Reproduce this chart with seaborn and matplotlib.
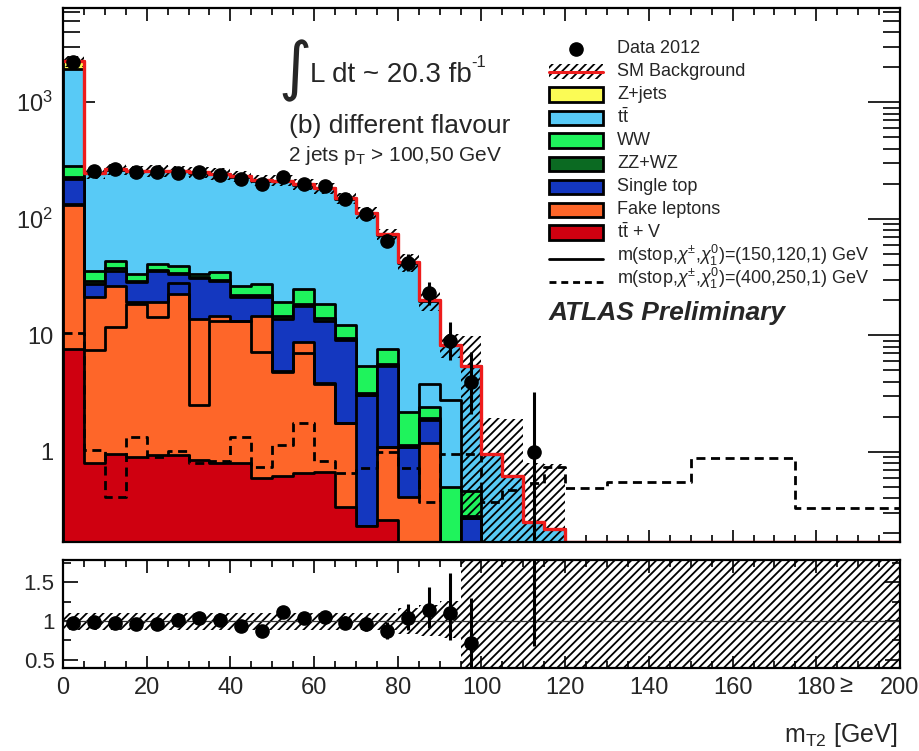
import numpy as np
import matplotlib
matplotlib.use("Agg")
import matplotlib.pyplot as plt
import seaborn as sns
from matplotlib.patches import Rectangle
from matplotlib.lines import Line2D
from matplotlib.ticker import FixedLocator, FixedFormatter, NullFormatter, MultipleLocator, LogLocator

sns.set_theme(style="ticks")
plt.rcParams['font.family'] = ['Liberation Sans', 'DejaVu Sans']
plt.rcParams['mathtext.fontset'] = 'custom'
plt.rcParams['mathtext.rm'] = 'Liberation Sans'
plt.rcParams['mathtext.it'] = 'Liberation Sans:italic'
plt.rcParams['mathtext.bf'] = 'Liberation Sans:bold'
plt.rcParams['hatch.linewidth'] = 1.3
plt.rcParams['lines.scale_dashes'] = False

# ---------------- data (5 GeV bins, 0-200 GeV) ----------------
bin_edges = np.arange(0, 205, 5)
nbins = len(bin_edges) - 1

ttv        = [7.7, 0.80, 0.97, 0.91, 0.94, 0.94, 0.85, 0.80, 0.80, 0.60, 0.62, 0.66, 0.68, 0.34, 0.23, 0.26, 0, 0, 0, 0, 0, 0, 0, 0]
fake       = [124, 20.5, 25.7, 18.3, 18.3, 21.8, 12.9, 14.0, 12.6, 14.2, 4.3, 8.1, 3.2, 1.43, 0, 0.85, 0.41, 1.19, 0, 0, 0, 0, 0, 0]
single_top = [88, 6.5, 9.3, 9.4, 16.2, 10.9, 17.3, 14.2, 7.9, 6.5, 9.0, 9.2, 9.5, 7.3, 2.84, 4.4, 0.70, 0.69, 0, 0.27, 0, 0, 0, 0]
zz_wz      = [10, 1.7, 2.0, 0.9, 1.1, 0.9, 0.5, 0.8, 0.7, 0.7, 0.7, 0.6, 0.6, 0.5, 0.13, 0.2, 0.04, 0.07, 0, 0.01, 0, 0, 0, 0]
ww         = [54, 5.9, 5.8, 4.1, 4.5, 5.1, 2.1, 5.0, 4.7, 5.7, 4.6, 6.4, 4.7, 2.6, 2.3, 2.0, 1.06, 0.49, 0.5, 0.18, 0, 0, 0, 0]
ttbar      = [1631, 209.6, 218.2, 221.4, 215, 215.4, 213.4, 206.2, 202.3, 184.3, 191.8, 170, 163.3, 136.8, 106.5, 65.3, 39.8, 17.4, 7.7, 5.04, 0.97, 0.62, 0.25, 0.22]
zjets      = [335, 3, 3, 3, 3, 3, 3, 3, 3, 3, 2, 2, 2, 2, 1, 1, 0.4, 0.1, 0, 0, 0, 0, 0, 0]

bkg_unc_up = [0.11, 0.11, 0.11, 0.11, 0.11, 0.11, 0.11, 0.11, 0.11, 0.11, 0.11, 0.11, 0.11, 0.11, 0.11, 0.11, 0.17, 0.21, 0.26, 0.80, 1.0, 2.1, 2.2, 2.6]
bkg_unc_dn = [0.11, 0.11, 0.11, 0.11, 0.11, 0.11, 0.11, 0.11, 0.11, 0.11, 0.11, 0.11, 0.11, 0.11, 0.11, 0.11, 0.17, 0.19, 0.22, 0.95, 1.0, 1.0, 1.0, 1.0]

data        = [2200, 257, 266, 254, 254, 249, 252, 238, 221, 198, 230, 200, 192, 147, 109, 65, 42, 23, 9, 4, 0, 0, 1, 0]
data_err_lo = [47, 16, 16, 16, 16, 16, 16, 15, 15, 14, 15, 14, 14, 12, 10, 8, 6.5, 4.8, 2.9, 1.9, 0, 0, 0.83, 0]
data_err_hi = [47, 17, 17, 17, 17, 17, 17, 16, 16, 15, 16, 15, 15, 13, 11, 9, 7.5, 5.8, 4.1, 3.2, 0, 0, 2.3, 0]

ratio = [0.98, 0.99, 0.98, 0.96, 0.96, 1.02, 1.04, 1.02, 0.94, 0.87, 1.12, 1.04, 1.05, 0.98, 0.96, 0.87,
         1.04, 1.15, 1.11, 0.72, np.nan, np.nan, 4.0, np.nan]
ratio_full_band_from = 95.0   # GeV, band covers full ratio range beyond this

sig_150_120_1 = [135, 7.45, 11.8, 18.5, 14.3, 28, 2.52, 13.4, 13.4, 7.2, 4.9, 7.0, 3.86, 1.77, 3.07, 1.11, 1.11, 3.86, 2.78, 0.27,
                 0, 0, 0, 0, 0, 0, 0, 0, 0, 0, 0, 0, 0, 0, 0, 0, 0, 0, 0, 0]
sig_400_250_1 = [10.4, 1.04, 0.41, 1.35, 0.91, 1.02, 0.80, 0.84, 1.35, 0.75, 1.15, 1.77, 0.83, 0.66, 0.73, 1.0, 0.73, 0.376, 0.96, 0.96,
                 0.376, 0.47, 0.54, 0.75, 0.49, 0.49, 0.556, 0.556, 0.556, 0.556, 0.89, 0.89, 0.89, 0.89, 0.89, 0.33, 0.33, 0.33, 0.33, 0.33]

xticks = [0, 20, 40, 60, 80, 100, 120, 140, 160, 180, 200]
xticklabels = ["0", "20", "40", "60", "80", "100", "120", "140", "160", "180", "200"]

colors = {
    "Z+jets": "#fbfb55",
    "ttbar": "#58caf6",
    "WW": "#1ff35c",
    "ZZ+WZ": "#0b6a22",
    "Single top": "#1437bf",
    "Fake leptons": "#fe6629",
    "ttV": "#cf0010",
}
# ---------------------------------------------------------------

def pad(a, n=nbins):
    a = np.asarray(a, dtype=float)
    return np.concatenate([a, np.zeros(n - len(a))])

centers = 0.5 * (bin_edges[:-1] + bin_edges[1:])
c_ttv = pad(ttv)
c_fake = c_ttv + pad(fake)
c_st = c_fake + pad(single_top)
c_zz = c_st + pad(zz_wz)
c_ww = c_zz + pad(ww)
c_tt = c_ww + pad(ttbar)
c_tot = c_tt + pad(zjets)

YMIN, YMAX = 0.169, 6430

W, H = 920, 751
def fx(px): return px / W
def fy(py): return 1 - py / H

fig = plt.figure(figsize=(9.2, 7.51), dpi=100)
ax = fig.add_axes([fx(63), fy(542), fx(900) - fx(63), fy(8) - fy(542)])
ax2 = fig.add_axes([fx(63), fy(668.3), fx(900) - fx(63), fy(560) - fy(668.3)])
for a in (ax, ax2):
    a.set_facecolor("white")

# stacked background: each cumulative layer drawn from the bottom (ROOT style)
layers = [(c_tot, colors["Z+jets"]), (c_tt, colors["ttbar"]), (c_ww, colors["WW"]),
          (c_zz, colors["ZZ+WZ"]), (c_st, colors["Single top"]), (c_fake, colors["Fake leptons"]),
          (c_ttv, colors["ttV"])]
edge_list = [float(e) for e in bin_edges]
for cum, col in layers:
    sns.histplot(x=centers, weights=cum, bins=edge_list, element="step", fill=True,
                 color=col, edgecolor="black", linewidth=2.0, alpha=1, ax=ax)

def step_y(v, floor=1e-4):
    v = np.asarray(v, dtype=float)
    v = np.where(v <= 0, floor, v)
    return np.append(v, v[-1])

# signal lines
sns.lineplot(x=bin_edges, y=step_y(sig_150_120_1), drawstyle="steps-post", color="black",
             linewidth=2.0, estimator=None, sort=False, errorbar=None, ax=ax)
sns.lineplot(x=bin_edges, y=step_y(sig_400_250_1), drawstyle="steps-post", color="black",
             linewidth=2.0, estimator=None, sort=False, errorbar=None, ax=ax)
ax.lines[-1].set_dashes([6.5, 4.0])

# SM background uncertainty band
nb = len(bkg_unc_up)
tot_b = c_tot[:nb]
band_hi = tot_b * (1 + np.asarray(bkg_unc_up))
band_lo = tot_b * (1 - np.asarray(bkg_unc_dn))
band_lo = np.where(band_lo <= 0, 1e-4, band_lo)
ax.fill_between(bin_edges[:nb + 1], np.append(band_lo, band_lo[-1]), np.append(band_hi, band_hi[-1]),
                step="post", facecolor="none", edgecolor="black", hatch="////", linewidth=0, zorder=5)

# total SM line (empty bins sit on the lower frame edge, as in ROOT)
sns.lineplot(x=bin_edges, y=step_y(c_tot, floor=YMIN * 1.004), drawstyle="steps-post", color="#ee1c1c",
             linewidth=2.4, estimator=None, sort=False, errorbar=None, ax=ax, zorder=6)

# data
d = np.asarray(data, float)
m = d > 0
ax.errorbar(centers[:len(d)][m], d[m], yerr=[np.asarray(data_err_lo)[m], np.asarray(data_err_hi)[m]],
            fmt="o", color="black", ms=9.5, elinewidth=2.2, capsize=0, zorder=10)

ax.set_xlim(0, 200)
ax.set_yscale("log")
ax.set_ylim(YMIN, YMAX)
ax.set_xlabel("")
ax.set_ylabel("")
ax.xaxis.set_major_locator(MultipleLocator(20))
ax.xaxis.set_minor_locator(MultipleLocator(5))
ax.yaxis.set_major_locator(FixedLocator([1, 10, 100, 1000]))
ax.yaxis.set_major_formatter(FixedFormatter(["1", "10", r"$\mathrm{10^{2}}$", r"$\mathrm{10^{3}}$"]))
ax.yaxis.set_minor_locator(LogLocator(base=10, subs=np.arange(2, 10), numticks=30))
ax.yaxis.set_minor_formatter(NullFormatter())
ax.tick_params(axis="x", which="both", labelbottom=False)
ax.tick_params(which="both", direction="in", top=True, right=True, width=1.2, color="black")
ax.tick_params(axis="x", which="major", length=9)
ax.tick_params(axis="x", which="minor", length=5)
ax.tick_params(axis="y", which="major", length=23, labelsize=17, pad=7)
ax.tick_params(axis="y", which="minor", length=12)
for s in ax.spines.values():
    s.set_linewidth(1.6)
    s.set_color("black")
    s.set_zorder(20)

# ---------------- ratio panel ----------------
r = np.asarray(ratio, float)
rb_up = 1 + np.asarray(bkg_unc_up)
rb_dn = 1 - np.asarray(bkg_unc_dn)
nfull = int(ratio_full_band_from / 5)
ax2.fill_between(bin_edges[:nfull + 1], np.append(rb_dn[:nfull], rb_dn[nfull - 1]),
                 np.append(rb_up[:nfull], rb_up[nfull - 1]),
                 step="post", facecolor="none", edgecolor="black", hatch="////", linewidth=0, zorder=2)
ax2.fill_between(bin_edges[nfull:], 0.0, 3.0, step="post", facecolor="none", edgecolor="black",
                 hatch="////", linewidth=0, zorder=2)
ax2.axhline(1.0, color="#333333", linewidth=0.9, zorder=3)
rm = ~np.isnan(r)
rel_lo = np.asarray(data_err_lo) / np.where(d > 0, d, 1)
rel_hi = np.asarray(data_err_hi) / np.where(d > 0, d, 1)
ax2.errorbar(centers[:len(r)][rm], r[rm], yerr=[(r * rel_lo)[rm], (r * rel_hi)[rm]],
             fmt="o", color="black", ms=9.5, elinewidth=2.2, capsize=0, zorder=10)
ax2.set_xlim(0, 200)
ax2.set_ylim(0.39, 1.79)
ax2.set_xticks(xticks)
ax2.set_xticklabels(xticklabels)
ax2.xaxis.set_minor_locator(MultipleLocator(5))
ax2.yaxis.set_major_locator(FixedLocator([0.5, 1.0, 1.5]))
ax2.yaxis.set_major_formatter(FixedFormatter(["0.5", "1", "1.5"]))
ax2.yaxis.set_minor_locator(MultipleLocator(0.25))
ax2.tick_params(which="both", direction="in", top=True, right=True, width=1.2, color="black")
ax2.tick_params(axis="x", which="major", length=9, labelsize=17, pad=6)
ax2.tick_params(axis="x", which="minor", length=5)
ax2.tick_params(axis="y", which="major", length=11, labelsize=16, pad=6)
ax2.tick_params(axis="y", which="minor", length=6)
for s in ax2.spines.values():
    s.set_linewidth(1.6)
    s.set_color("black")
    s.set_zorder(20)

# ---------------- texts ----------------
fig.text(fx(846), fy(692), "≥", fontsize=17, ha="center", va="baseline")
fig.text(fx(897), fy(742), r"m$_{\mathrm{T2}}$ [GeV]", fontsize=18, ha="right", va="baseline")

fig.text(fx(295), fy(71), "∫", fontsize=46, ha="center", va="center", family="DejaVu Sans")
fig.text(fx(310), fy(82), "L dt ~ 20.3 fb", fontsize=20, va="baseline")
fig.text(fx(471), fy(67), "-1", fontsize=12, va="baseline")
fig.text(fx(289), fy(133), "(b) different flavour", fontsize=19, va="baseline")
fig.text(fx(288), fy(161), r"2 jets p$_{\mathrm{T}}$ > 100,50 GeV", fontsize=15, va="baseline")
fig.text(fx(549), fy(320), "ATLAS Preliminary", fontsize=19, weight="bold", style="italic", va="baseline")

# ---------------- legend (ROOT-like, manual) ----------------
leg = [
    ("data", None, "Data 2012"),
    ("sm", None, "SM Background"),
    ("patch", colors["Z+jets"], "Z+jets"),
    ("patch", colors["ttbar"], r"t$\bar{\mathrm{t}}$"),
    ("patch", colors["WW"], "WW"),
    ("patch", colors["ZZ+WZ"], "ZZ+WZ"),
    ("patch", colors["Single top"], "Single top"),
    ("patch", colors["Fake leptons"], "Fake leptons"),
    ("patch", colors["ttV"], r"t$\bar{\mathrm{t}}$ + V"),
    ("solid", None, r"m(stop,$\chi^{\pm}$,$\chi^{0}_{1}$)=(150,120,1) GeV"),
    ("dashed", None, r"m(stop,$\chi^{\pm}$,$\chi^{0}_{1}$)=(400,250,1) GeV"),
]
x0, x1, xt = 549, 603, 617
for i, (kind, col, lab) in enumerate(leg):
    yc = 48.5 + 23.0 * i
    if kind == "data":
        fig.add_artist(Line2D([fx(576)], [fy(yc)], marker="o", ms=9.5, color="black", linestyle="none"))
    elif kind == "sm":
        fig.add_artist(Rectangle((fx(x0), fy(yc + 7)), fx(x1) - fx(x0), fy(yc - 7) - fy(yc + 7),
                                 facecolor="none", edgecolor="black", hatch="////", linewidth=0))
        fig.add_artist(Line2D([fx(x0), fx(x1)], [fy(yc), fy(yc)], color="#ee1c1c", linewidth=2.2))
    elif kind == "patch":
        fig.add_artist(Rectangle((fx(x0), fy(yc + 7)), fx(x1) - fx(x0), fy(yc - 7) - fy(yc + 7),
                                 facecolor=col, edgecolor="black", linewidth=2.0))
    elif kind == "solid":
        fig.add_artist(Line2D([fx(x0), fx(x1)], [fy(yc + 3), fy(yc + 3)], color="black", linewidth=2.0))
    elif kind == "dashed":
        ln = Line2D([fx(x0), fx(x1)], [fy(yc + 3), fy(yc + 3)], color="black", linewidth=2.0)
        ln.set_dashes([5, 3.5])
        fig.add_artist(ln)
    fig.text(fx(xt), fy(yc), lab, fontsize=13, va="center", ha="left")

fig.savefig("out.png", dpi=100, facecolor="white")
